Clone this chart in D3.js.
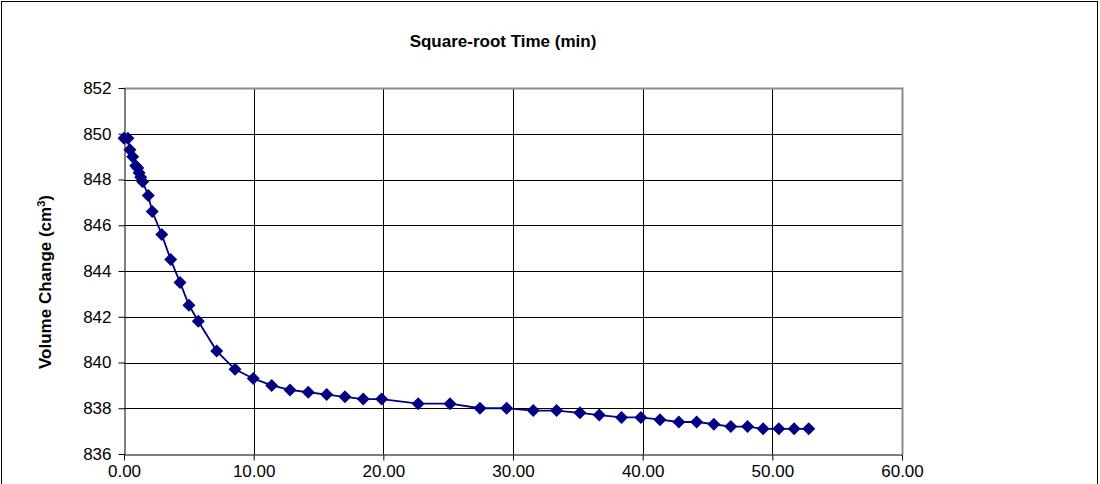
<!DOCTYPE html>
<html>
  <head>
    <meta charset="utf-8">
    <title>Volume change vs square-root time</title>
    <script src="https://cdn.jsdelivr.net/npm/d3@7"></script>
    <style>
      body { margin: 0; background: #fff; }
      svg { display: block; font-family: "Liberation Sans", Arial, sans-serif; }
      .tick text { font-size: 17px; fill: #000; }
    </style>
  </head>
  <body>
    <svg id="chart" width="1100" height="484"></svg>

    <script>
      // data
      sqrtTime = [0.00, 0.30, 0.46, 0.67, 0.90, 1.06, 1.16, 1.29, 1.44, 1.87, 2.18, 2.91, 3.60, 4.32, 5.01, 5.73,
        7.15, 8.56, 9.97, 11.39, 12.80, 14.21, 15.63, 17.04, 18.45, 19.87, 22.69, 25.14, 27.45, 29.51, 31.56,
        33.36, 35.16, 36.65, 38.37, 39.86, 41.33, 42.79, 44.16, 45.49, 46.80, 48.09, 49.29, 50.50, 51.68, 52.81];
      volume = [849.8, 849.8, 849.3, 849.0, 848.6, 848.5, 848.3, 848.1, 847.9, 847.3, 846.6, 845.6, 844.5, 843.5,
        842.5, 841.8, 840.5, 839.7, 839.3, 839.0, 838.8, 838.7, 838.6, 838.5, 838.4, 838.4, 838.2, 838.2, 838.0,
        838.0, 837.9, 837.9, 837.8, 837.7, 837.6, 837.6, 837.5, 837.4, 837.4, 837.3, 837.2, 837.2, 837.1, 837.1,
        837.1, 837.1];
      xTicks = [0, 10, 20, 30, 40, 50, 60];
      yTicks = [836, 838, 840, 842, 844, 846, 848, 850, 852];

      points = sqrtTime.map(function(d, i) { return [d, volume[i]]; });

      svg = d3.select("#chart");

      // outer chart frame
      svg.append("rect")
        .attr("x", 1.5).attr("y", 1.5)
        .attr("width", 1096).attr("height", 520)
        .attr("fill", "none").attr("stroke", "#000");

      x = d3.scaleLinear().domain([0, 60]).range([124, 902]);
      y = d3.scaleLinear().domain([836, 852]).range([454, 88]);

      // grid
      grid = svg.append("g");
      grid.selectAll(".hg")
        .data(yTicks.slice(1, -1))
      .enter().append("line")
        .attr("x1", x(0)).attr("x2", x(60))
        .attr("y1", function(d) { return Math.round(y(d)) + .5; })
        .attr("y2", function(d) { return Math.round(y(d)) + .5; })
        .attr("stroke", "#000");
      grid.selectAll(".vg")
        .data(xTicks.slice(1, -1))
      .enter().append("line")
        .attr("y1", y(852)).attr("y2", y(836))
        .attr("x1", function(d) { return Math.round(x(d)) + .5; })
        .attr("x2", function(d) { return Math.round(x(d)) + .5; })
        .attr("stroke", "#000");

      // plot area border (top/right grey)
      svg.append("path")
        .attr("d", "M" + x(0) + "," + (y(852) + .5) + "H" + (x(60) + .5) + "V" + y(836))
        .attr("fill", "none").attr("stroke", "#8c8c8c").attr("stroke-width", 2);

      // axes
      svg.append("g")
        .attr("transform", "translate(0," + (Math.round(y(836)) + .5) + ")")
        .call(d3.axisBottom(x).tickValues(xTicks).tickFormat(d3.format(".2f")).tickSize(6).tickSizeOuter(0))
        .call(function(g) { g.selectAll("line, path").attr("stroke", "#000"); })
        .call(function(g) { g.selectAll("text").attr("y", 10).attr("dy", ".75em"); });

      svg.append("g")
        .attr("transform", "translate(" + (Math.round(x(0)) + .5) + ",0)")
        .call(d3.axisLeft(y).tickValues(yTicks).tickFormat(d3.format("d")).tickSize(6).tickSizeOuter(0))
        .call(function(g) { g.selectAll("line, path").attr("stroke", "#000"); })
        .call(function(g) { g.selectAll("text").attr("x", -13); });

      // series
      svg.append("path")
        .datum(points)
        .attr("fill", "none")
        .attr("stroke", "#000080")
        .attr("stroke-width", 1.8)
        .attr("d", d3.line()
          .x(function(d) { return x(d[0]); })
          .y(function(d) { return y(d[1]); }));

      svg.selectAll(".pt")
        .data(points)
      .enter().append("path")
        .attr("transform", function(d) { return "translate(" + x(d[0]) + "," + y(d[1]) + ")"; })
        .attr("d", "M0,-6.5L6.5,0L0,6.5L-6.5,0Z")
        .attr("fill", "#000080");

      // titles
      svg.append("text")
        .attr("x", 503).attr("y", 47)
        .attr("text-anchor", "middle")
        .attr("font-size", 17).attr("font-weight", "bold")
        .text("Square-root Time (min)");

      yTitle = svg.append("text")
        .attr("transform", "translate(51,282) rotate(-90)")
        .attr("text-anchor", "middle")
        .attr("font-size", 17).attr("font-weight", "bold");
      yTitle.append("tspan").text("Volume Change (cm");
      yTitle.append("tspan").attr("font-size", 11).attr("dy", -6).text("3");
      yTitle.append("tspan").attr("dy", 6).text(")");
    </script>
  </body>
</html>
